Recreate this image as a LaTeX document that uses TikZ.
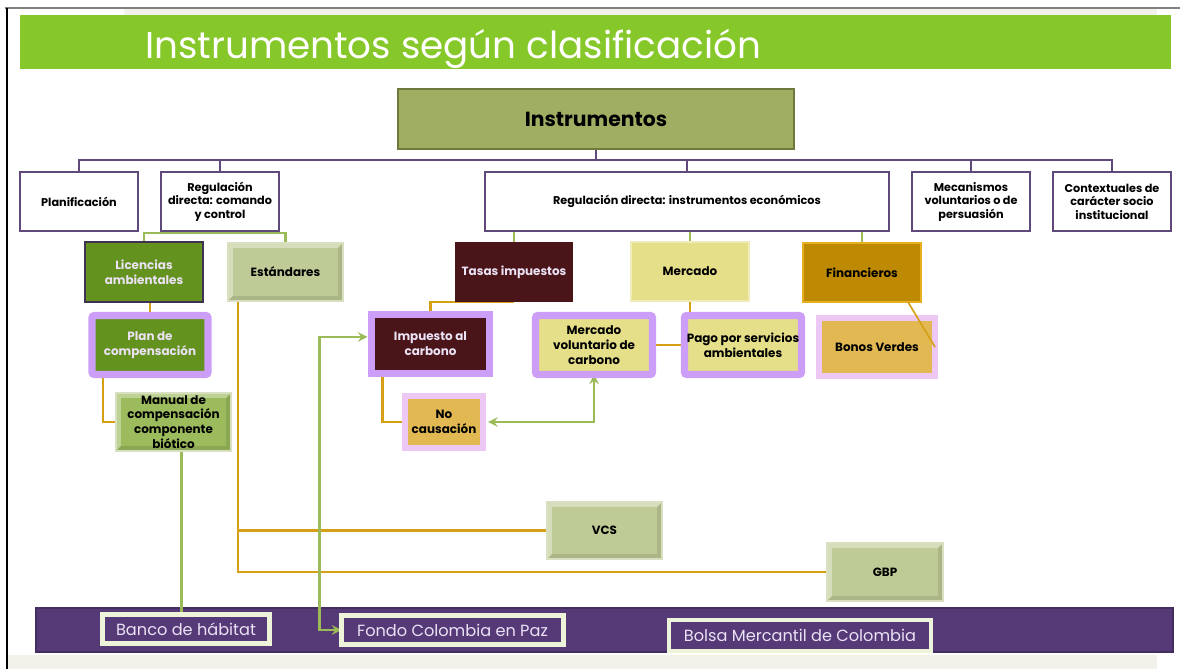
\documentclass[tikz,border=0pt]{standalone}
\usepackage{fontspec}
\setmainfont{Poppins}
\usetikzlibrary{calc,backgrounds}
\pgfdeclarelayer{bottom}
\pgfsetlayers{bottom,background,main}
\definecolor{titlegreen}{RGB}{134,200,42}
\definecolor{rootfill}{RGB}{159,174,98}
\definecolor{rootline}{RGB}{110,122,60}
\definecolor{buspurple}{RGB}{96,74,123}
\definecolor{linkgreen}{RGB}{155,187,89}
\definecolor{linkorange}{RGB}{214,160,22}
\definecolor{licgreen}{RGB}{99,146,31}
\definecolor{darkpurple}{RGB}{63,49,81}
\definecolor{lavender}{RGB}{204,158,248}
\definecolor{palepink}{RGB}{238,200,245}
\definecolor{stdfill}{RGB}{191,203,151}
\definecolor{manfill}{RGB}{156,187,92}
\definecolor{maroon}{RGB}{74,21,25}
\definecolor{mercfill}{RGB}{230,223,138}
\definecolor{finfill}{RGB}{190,138,4}
\definecolor{finline}{RGB}{230,176,32}
\definecolor{gold}{RGB}{226,184,82}
\definecolor{barpurple}{RGB}{85,58,119}
\definecolor{cream}{RGB}{238,244,218}
\definecolor{paletext}{RGB}{235,226,245}
\definecolor{beige}{RGB}{243,242,234}
\begin{document}
\begin{tikzpicture}[x=0.025cm, y=-0.025cm,
        dims/.style 2 args={minimum width=#1*0.025cm, minimum height=#2*0.025cm},
        base/.style={rectangle, inner sep=0pt, outer sep=0pt, align=center, font=\fontsize{8.5}{10.5}\selectfont\bfseries},
        titlebar/.style={rectangle, fill=titlegreen, inner sep=0pt},
        titletext/.style={text=white, inner sep=0pt, font=\fontsize{26.5}{30}\selectfont},
        root/.style={base, fill=rootfill, draw=rootline, line width=1.5pt, font=\fontsize{14.5}{17}\selectfont\bfseries},
        cat/.style={base, fill=white, draw=buspurple, line width=1.5pt, font=\fontsize{8}{9.6}\selectfont\bfseries},
        bevel/.style={path picture={
            \path (path picture bounding box.north west) coordinate (bnw)
                  (path picture bounding box.north east) coordinate (bne)
                  (path picture bounding box.south east) coordinate (bse)
                  (path picture bounding box.south west) coordinate (bsw);
            \fill[white, opacity=0.35] (bnw) -- (bne) -- ([shift={(-3.5pt,-3.5pt)}]bne) -- ([shift={(3.5pt,-3.5pt)}]bnw) -- ([shift={(3.5pt,3.5pt)}]bsw) -- (bsw) -- cycle;
            \fill[black, opacity=0.1] (bse) -- (bne) -- ([shift={(-3.5pt,-3.5pt)}]bne) -- ([shift={(-3.5pt,3.5pt)}]bse) -- ([shift={(3.5pt,3.5pt)}]bsw) -- (bsw) -- cycle;
        }},
        soft/.style={base, bevel, fill=stdfill, draw=stdfill!60!white, line width=1pt},
        dark/.style={base, text=paletext},
        framed/.style={base, draw=lavender, line width=5pt, rounded corners=1.5pt},
        pinkframed/.style={base, draw=palepink, line width=4.5pt},
        tag/.style={rectangle, inner sep=0pt, outer sep=0pt, fill=barpurple, draw=cream, line width=3.5pt, text=paletext, font=\fontsize{11.5}{13}\selectfont},
        bus/.style={draw=buspurple, line width=1.7pt},
        gline/.style={draw=linkgreen, line width=2pt},
        oline/.style={draw=linkorange, line width=2.1pt},
        link/.style={<->, >=stealth, draw=linkgreen, line width=2pt}
    ]
    \useasboundingbox (0,0) rectangle (1180,669);
    \begin{pgfonlayer}{bottom}
    \fill[beige] (124,9) rectangle (1157,15);
    \fill[beige] (7,655) rectangle (1157,669);
    \draw[gray, line width=1pt] (5,8) -- (1180,8);
    \draw[black, line width=0.8pt] (7,8) -- (7,669);
    \node[titlebar, dims={1151}{54}] (bar) at (595.5,42) {};
    \node[rectangle, fill=barpurple, draw=barpurple!80!black, line width=1pt, dims={1137}{44}] (foot) at (604.5,630) {};
    \end{pgfonlayer}
    \node[titletext, anchor=base west] (title) at (145,59) {Instrumentos según clasificación};

    \node[root, dims={396}{60}] (top) at (596,119) {Instrumentos};

    \node[cat, dims={118}{59}] (plan) at (79,201.5) {Planificación};
    \node[cat, dims={118}{59}] (regcc) at (220,201.5) {Regulación\\directa: comando\\y control};
    \node[cat, dims={404}{59}] (regeco) at (687,201.5) {Regulación directa: instrumentos económicos};
    \node[cat, dims={118}{59}] (meca) at (971,201.5) {Mecanismos\\voluntarios o de\\persuasión};
    \node[cat, dims={118}{59}] (ctx) at (1112,201.5) {Contextuales de\\carácter socio\\institucional};

    \node[dark, fill=licgreen, draw=darkpurple, line width=2pt, dims={118}{60}] (lic) at (144,272) {Licencias\\ambientales};
    \node[soft, dims={115}{58}] (est) at (285.5,272) {Estándares};
    \node[dark, fill=maroon, dims={118}{60}] (tasas) at (514,272) {Tasas impuestos};
    \node[base, fill=mercfill, draw=mercfill!60!white, line width=1pt, dims={118}{59}] (merc) at (690,271.5) {Mercado};
    \node[base, fill=finfill, draw=finline, line width=1pt, dims={118}{59}] (fin) at (862,272.5) {Financieros};

    \node[framed, dark, fill=licgreen, dims={116}{59}] (comp) at (150,345) {Plan de\\compensación};
    \node[soft, fill=manfill, dims={115}{58}] (manual) at (173.5,422) {Manual de\\compensación\\componente\\biótico};
    \node[framed, dark, fill=maroon, rounded corners=0pt, dims={118}{58.5}] (imp) at (430.5,344) {Impuesto al\\carbono};
    \node[pinkframed, fill=gold, dims={78}{52.5}] (noc) at (444,422) {No\\causación};
    \node[framed, fill=mercfill, dims={117}{59}] (mvc) at (594,345) {Mercado\\voluntario de\\carbono};
    \node[framed, fill=mercfill, dims={117}{59}] (pago) at (743,345) {Pago por servicios\\ambientales};
    \node[pinkframed, fill=gold, dims={116}{57.5}] (bonos) at (877,347) {Bonos Verdes};

    \node[soft, dims={115}{57}] (vcs) at (604.5,530.5) {VCS};
    \node[soft, dims={116}{58}] (gbp) at (885,572) {GBP};

    \node[tag, dims={166.5}{29}] (banco) at (186,629) {Banco de hábitat};
    \node[tag, dims={222}{29}] (fondo) at (452.5,630) {Fondo Colombia en Paz};
    \node[tag, dims={262}{31}] (bolsa) at (800,635.5) {Bolsa Mercantil de Colombia};

    \begin{pgfonlayer}{background}
    \draw[bus] (top.south) -- ++(0,11) -| (plan.north);
    \draw[bus] (top.south) -- ++(0,11) -| (regcc.north);
    \draw[bus] (top.south) -- ++(0,11) -| (regeco.north);
    \draw[bus] (top.south) -- ++(0,11) -| (meca.north);
    \draw[bus] (top.south) -- ++(0,11) -| (ctx.north);
    \draw[gline] (regcc.south) -- ++(0,2) -| (lic.north);
    \draw[gline] (regcc.south) -- ++(0,2) -| (est.north);
    \draw[gline] (tasas.north) -- (tasas.north |- regeco.south);
    \draw[gline] (merc.north) -- (merc.north |- regeco.south);
    \draw[gline] (fin.north) -- (fin.north |- regeco.south);
    \draw[oline] (comp.north) -- (comp.north |- lic.south);
    \coordinate (c1) at ($(comp.south west)+(11,0)$);
    \draw[oline] (c1) |- (manual.west);
    \coordinate (m1) at ($(manual.south)+(8,0)$);
    \draw[gline] (m1) -- (m1 |- banco.north);
    \coordinate (e1) at ($(est.south west)+(10,0)$);
    \draw[oline] (e1) |- (vcs.west);
    \draw[oline] (e1) |- (gbp.west);
    \draw[oline] (imp.north) |- (tasas.south);
    \coordinate (i1) at ($(imp.south west)+(11,0)$);
    \draw[oline] (i1) |- (noc.west);
    \draw[oline] (merc.south) |- (mvc.east);
    \coordinate (i2) at ($(imp.west)+(-4,-7)$);
    \draw[link] (i2) -| ($(fondo.west)+(-22,0)$) -- (fondo.west);
    \draw[link] ($(noc.east)+(5,0)$) -| (mvc.south);
    \end{pgfonlayer}
    \draw[oline, line width=1.2pt] ($(fin.south)+(46,0)$) -- (bonos.east);
\end{tikzpicture}
\end{document}
